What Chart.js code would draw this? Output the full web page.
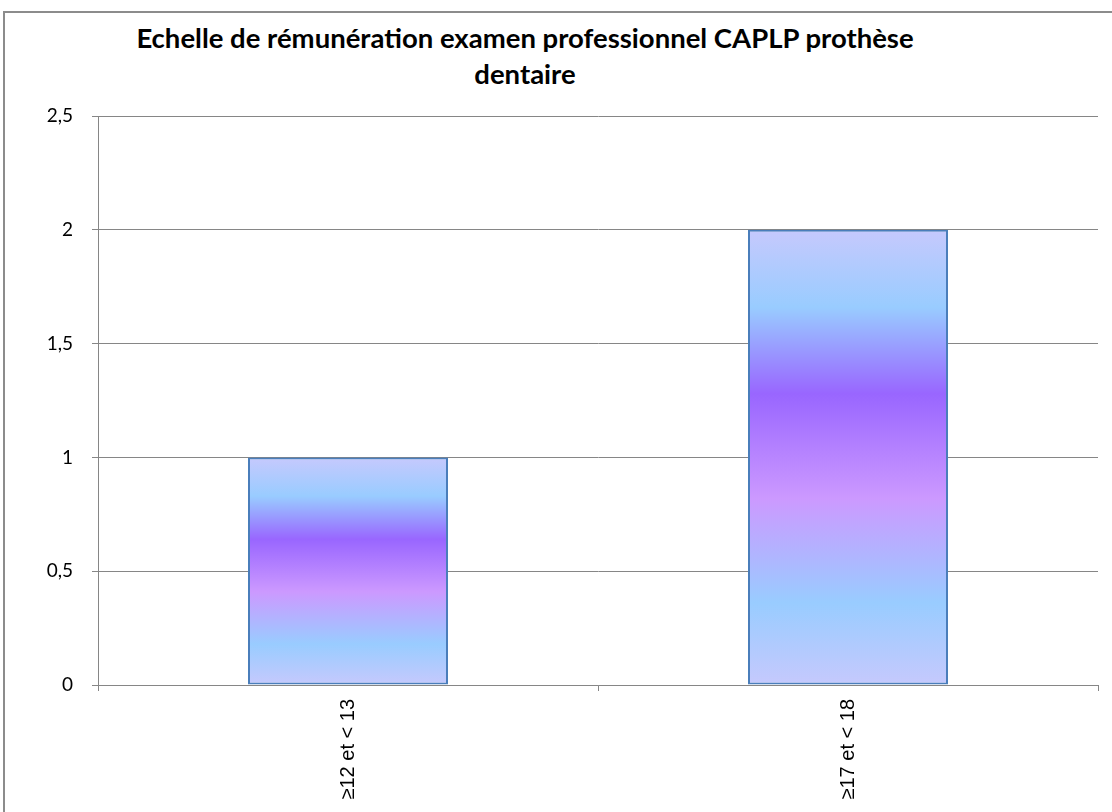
<!DOCTYPE html>
<html>
<head>
<meta charset="utf-8">
<script src="https://cdn.jsdelivr.net/npm/chart.js@4"></script>
<style>
  html, body { margin: 0; padding: 0; width: 1112px; height: 812px; overflow: hidden; background: #fff; }
  #frame { position: absolute; left: 3px; top: 11px; width: 1200px; height: 900px; border: 2px solid #8c8c8c; box-sizing: border-box; }
  #title { position: absolute; left: 5px; top: 20px; width: 1040px; text-align: center;
           font-family: Lato, "Open Sans", sans-serif; font-weight: bold; font-size: 27.5px; line-height: 36px; color: #000; }
  #wrap { position: absolute; left: 5px; top: 13px; width: 1107px; height: 830px; }
</style>
</head>
<body>
<div id="frame"></div>
<div id="title">Echelle de rémunération examen professionnel CAPLP prothèse<br>dentaire</div>
<div id="wrap"><canvas id="chart"></canvas></div>
<script>
// data
const categories = ["≥12 et < 13", "≥17 et < 18"];
const values = [1, 2];
const yTicks = [0, 0.5, 1, 1.5, 2, 2.5];

// vertical gradient, top to bottom, stretched over each bar
const gradientStops = [
  [0, "#c6c9fd"],
  [0.17, "#99ccff"],
  [0.36, "#9966ff"],
  [0.59, "#cc99ff"],
  [0.82, "#99ccff"],
  [1, "#c6c9fd"]
];

const barFill = (ctx) => {
  const chart = ctx.chart;
  if (!chart.chartArea) return "#a8a8ff";
  const y = chart.scales.y;
  const top = y.getPixelForValue(ctx.raw);
  const bottom = y.getPixelForValue(0);
  const g = chart.ctx.createLinearGradient(0, top, 0, bottom);
  gradientStops.forEach(([p, c]) => g.addColorStop(p, c));
  return g;
};

new Chart(document.getElementById("chart"), {
  type: "bar",
  data: {
    labels: categories,
    datasets: [{
      data: values,
      backgroundColor: barFill,
      borderColor: "#4a7ebb",
      borderWidth: 2,
      borderSkipped: false,
      barPercentage: 0.4,
      categoryPercentage: 1
    }]
  },
  options: {
    responsive: true,
    maintainAspectRatio: false,
    animation: false,
    layout: { padding: { top: 103, right: 14, left: 0, bottom: 0 } },
    plugins: { legend: { display: false }, tooltip: { enabled: false } },
    scales: {
      x: {
        afterFit: (s) => { s.height = 158; },
        grid: { display: true, drawOnChartArea: false, offset: true, tickLength: 6, color: "#868686" },
        border: { color: "#868686", width: 1 },
        ticks: {
          minRotation: 90, maxRotation: 90, padding: 8,
          color: "#000",
          font: { family: "'Liberation Sans', Arial, sans-serif", size: 20 }
        }
      },
      y: {
        min: 0, max: 2.5,
        afterFit: (s) => { s.width = 93; },
        afterBuildTicks: (s) => { s.ticks = yTicks.map(v => ({ value: v })); },
        grid: { color: "#868686", tickLength: 6 },
        border: { color: "#868686", width: 1 },
        ticks: {
          padding: 19,
          color: "#000",
          font: { family: "Lato, 'Open Sans', sans-serif", size: 19 },
          callback: (v) => String(v).replace(".", ",")
        }
      }
    }
  }
});
</script>
</body>
</html>
